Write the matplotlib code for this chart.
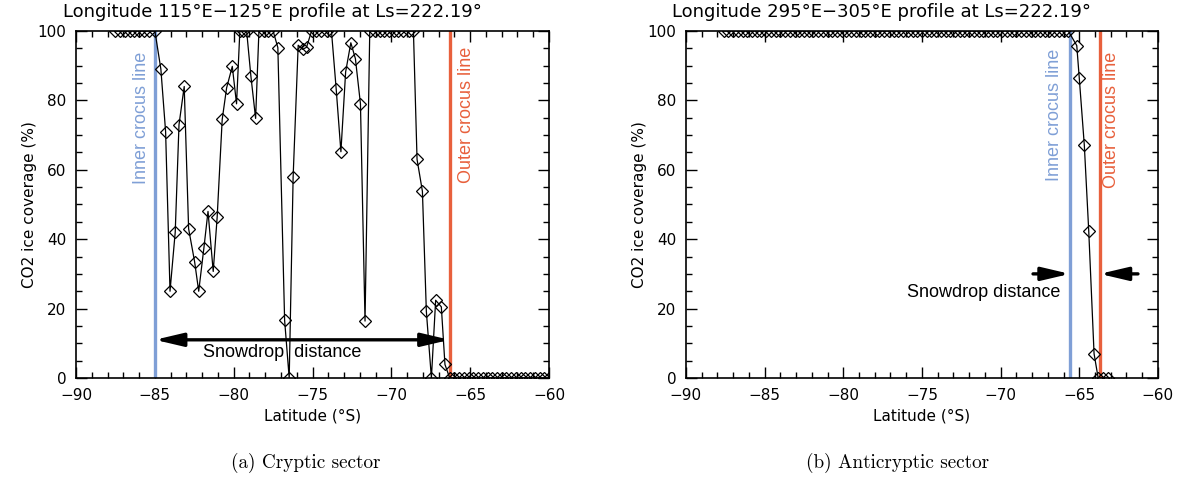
import matplotlib
matplotlib.use("Agg")
import matplotlib.pyplot as plt
from matplotlib.ticker import MultipleLocator

# cryptic sector profile (lon 115E-125E)
lat_a = [-87.5, -87.2, -86.9, -86.6, -86.3, -86.0, -85.7, -85.4, -85.0,
         -84.62, -84.32, -84.04, -83.71, -83.47, -83.14, -82.86, -82.48,
         -82.22, -81.89, -81.63, -81.30, -81.05, -80.73, -80.45, -80.09,
         -79.82, -79.61, -79.40, -79.18, -78.91, -78.61, -78.40, -78.10,
         -77.80, -77.50, -77.20, -76.77, -76.48, -76.23, -75.91, -75.63,
         -75.38, -75.06, -74.75, -74.45, -74.10, -73.80, -73.50, -73.20,
         -72.90, -72.57, -72.28, -71.96, -71.67, -71.37, -71.05, -70.75,
         -70.45, -70.15, -69.85, -69.55, -69.25, -68.90, -68.60, -68.37,
         -68.03, -67.78, -67.46, -67.19, -66.83, -66.60, -66.30, -66.0,
         -65.7, -65.4, -65.1, -64.8, -64.5, -64.2, -63.9, -63.6, -63.3,
         -63.0, -62.7, -62.4, -62.1, -61.8, -61.5, -61.2, -60.9, -60.6,
         -60.3, -60.0]
cov_a = [100, 100, 100, 100, 100, 100, 100, 100, 100,
         89, 71, 25, 42, 73, 84, 43, 33.5,
         25, 37.5, 48, 30.7, 46.3, 74.5, 83.6, 89.8,
         79, 100, 100, 100, 87, 74.8, 100, 100,
         100, 100, 95.2, 16.6, 0, 58, 95.9, 94.7,
         95.3, 100, 100, 100, 100, 100, 83.3, 65.2,
         88.2, 96.6, 92, 79, 16.4, 100, 100, 100,
         100, 100, 100, 100, 100, 100, 100, 63,
         53.8, 19.2, 0, 22.4, 20.5, 3.9, 0, 0,
         0, 0, 0, 0, 0, 0, 0, 0, 0,
         0, 0, 0, 0, 0, 0, 0, 0, 0,
         0, 0]

# anticryptic sector profile (lon 295E-305E)
lat_b = [-87.6, -87.3, -87.0, -86.7, -86.4, -86.1, -85.8, -85.5, -85.2,
         -84.9, -84.6, -84.3, -84.0, -83.7, -83.4, -83.1, -82.8, -82.5,
         -82.2, -81.9, -81.6, -81.3, -81.0, -80.7, -80.4, -80.1, -79.8,
         -79.5, -79.2, -78.9, -78.6, -78.3, -78.0, -77.7, -77.4, -77.1,
         -76.8, -76.5, -76.2, -75.9, -75.6, -75.3, -75.0, -74.7, -74.4,
         -74.1, -73.8, -73.5, -73.2, -72.9, -72.6, -72.3, -72.0, -71.7,
         -71.4, -71.1, -70.8, -70.5, -70.2, -69.9, -69.6, -69.3, -69.0,
         -68.7, -68.4, -68.1, -67.8, -67.5, -67.2, -66.9, -66.6, -66.3,
         -66.0, -65.7, -65.16, -65.0, -64.68, -64.4, -64.06, -63.8, -63.5,
         -63.2]
cov_b = [100, 100, 100, 100, 100, 100, 100, 100, 100,
         100, 100, 100, 100, 100, 100, 100, 100, 100,
         100, 100, 100, 100, 100, 100, 100, 100, 100,
         100, 100, 100, 100, 100, 100, 100, 100, 100,
         100, 100, 100, 100, 100, 100, 100, 100, 100,
         100, 100, 100, 100, 100, 100, 100, 100, 100,
         100, 100, 100, 100, 100, 100, 100, 100, 100,
         100, 100, 100, 100, 100, 100, 100, 100, 100,
         100, 100, 95.8, 86.4, 67.1, 42.5, 7, 0, 0,
         0]

titles = ["Longitude 115°E\u2212125°E profile at Ls=222.19°",
          "Longitude 295°E\u2212305°E profile at Ls=222.19°"]
captions = ["(a) Cryptic sector", "(b) Anticryptic sector"]
inner_lat = [-85.0, -65.6]
outer_lat = [-66.3, -63.7]

BLUE = "#7f9fd6"
RED = "#e8603c"

fig = plt.figure(figsize=(11.94, 4.90), dpi=100)
ax_a = fig.add_axes([0.0637, 0.2286, 0.3961, 0.7082])
ax_b = fig.add_axes([0.5745, 0.2286, 0.3953, 0.7082])

for i, (ax, lat, cov) in enumerate([(ax_a, lat_a, cov_a), (ax_b, lat_b, cov_b)]):
    ax.plot(lat, cov, color="k", lw=0.9, marker="D", ms=6.5, mfc="none",
            mec="k", mew=0.9, zorder=3)
    ax.axvline(inner_lat[i], color=BLUE, lw=2.4, zorder=2)
    ax.axvline(outer_lat[i], color=RED, lw=2.4, zorder=2)
    ax.set_xlim(-90, -60)
    ax.set_ylim(0, 100)
    ax.xaxis.set_major_locator(MultipleLocator(5))
    ax.xaxis.set_minor_locator(MultipleLocator(1))
    ax.yaxis.set_major_locator(MultipleLocator(20))
    ax.yaxis.set_minor_locator(MultipleLocator(5))
    ax.tick_params(which="both", direction="in", top=True, right=True,
                   labelsize=11, width=1)
    ax.tick_params(which="major", length=8, pad=7)
    ax.tick_params(which="minor", length=4)
    for s in ax.spines.values():
        s.set_linewidth(1.2)
    ax.set_xlabel("Latitude (°S)", fontsize=11)
    ax.set_ylabel("CO2 ice coverage (%)", fontsize=11, labelpad=0)

# crocus line labels
ax_a.text(-85.85, 94, "Inner crocus line", rotation=90, color=BLUE,
          family="Liberation Sans", fontsize=13, ha="center", va="top")
ax_a.text(-65.25, 95.5, "Outer crocus line", rotation=90, color=RED,
          family="Liberation Sans", fontsize=13, ha="center", va="top")
ax_b.text(-66.55, 95, "Inner crocus line", rotation=90, color=BLUE,
          family="Liberation Sans", fontsize=13, ha="center", va="top")
ax_b.text(-62.95, 94, "Outer crocus line", rotation=90, color=RED,
          family="Liberation Sans", fontsize=13, ha="center", va="top")

# snowdrop distance arrows
head = "head_length=0.85,head_width=0.2"
ax_a.annotate("", xy=(inner_lat[0], 11), xytext=(outer_lat[0], 11),
              arrowprops=dict(arrowstyle="<|-|>," + head, lw=2.4, color="k",
                              mutation_scale=20, shrinkA=0, shrinkB=0))
ax_a.text(-76.95, 7.4, "Snowdrop  distance", family="Liberation Sans",
          fontsize=13, ha="center", va="center")

ax_b.annotate("", xy=(inner_lat[1], 30), xytext=(-67.94, 30),
              arrowprops=dict(arrowstyle="-|>," + head, lw=2.4, color="k",
                              mutation_scale=20, shrinkA=0, shrinkB=0))
ax_b.annotate("", xy=(outer_lat[1], 30), xytext=(-61.27, 30),
              arrowprops=dict(arrowstyle="-|>," + head, lw=2.4, color="k",
                              mutation_scale=20, shrinkA=0, shrinkB=0))
ax_b.text(-71.1, 24.5, "Snowdrop distance", family="Liberation Sans",
          fontsize=13, ha="center", va="center")

# titles sit slightly left of the axes centre, like the original
fig.text(272 / 1194, 1 - 12 / 490, titles[0], fontsize=13, ha="center", va="center")
fig.text(882 / 1194, 1 - 12 / 490, titles[1], fontsize=13, ha="center", va="center")

fig.text(306 / 1194, 1 - 463 / 490, captions[0], family="cmr10", fontsize=13.8,
         ha="center", va="center")
fig.text(898 / 1194, 1 - 463 / 490, captions[1], family="cmr10", fontsize=13.8,
         ha="center", va="center")

fig.savefig("out.png", dpi=100)
